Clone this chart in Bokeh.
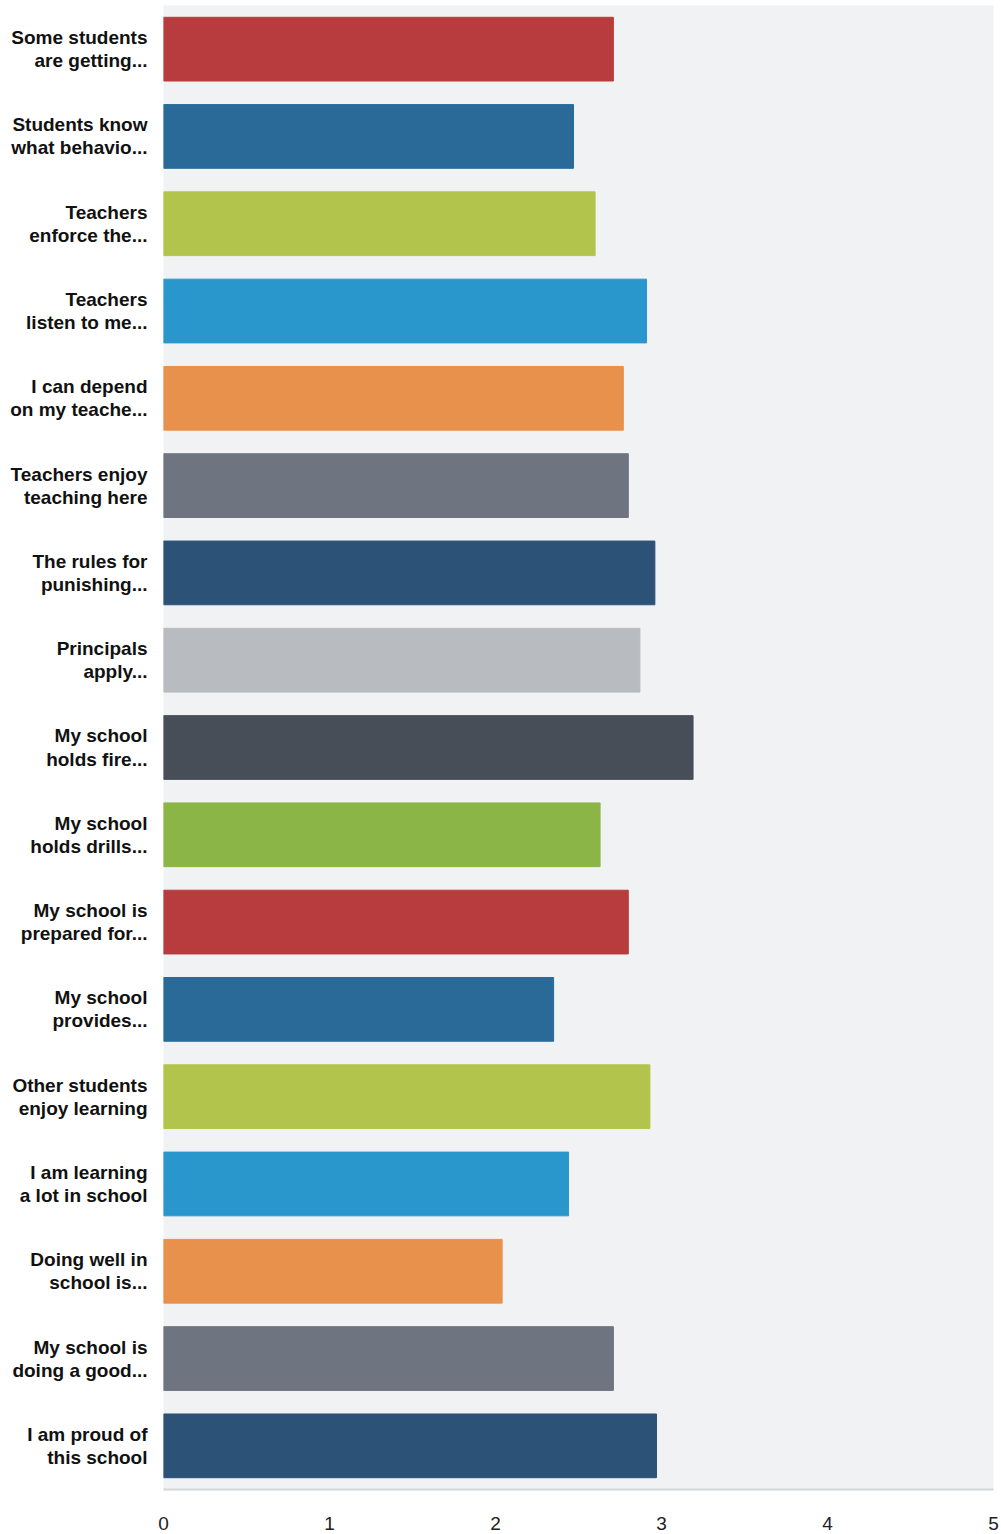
from bokeh.plotting import figure
from bokeh.models import ColumnDataSource, FactorRange, Range1d, FixedTicker
from bokeh.embed import file_html
from bokeh.resources import INLINE

categories = [
    "Some students\nare getting...",
    "Students know\nwhat behavio...",
    "Teachers\nenforce the...",
    "Teachers\nlisten to me...",
    "I can depend\non my teache...",
    "Teachers enjoy\nteaching here",
    "The rules for\npunishing...",
    "Principals\napply...",
    "My school\nholds fire...",
    "My school\nholds drills...",
    "My school is\nprepared for...",
    "My school\nprovides...",
    "Other students\nenjoy learning",
    "I am learning\na lot in school",
    "Doing well in\nschool is...",
    "My school is\ndoing a good...",
    "I am proud of\nthis school",
]
values = [2.71, 2.47, 2.60, 2.91, 2.77, 2.80, 2.96, 2.87, 3.19, 2.63,
          2.80, 2.35, 2.93, 2.44, 2.04, 2.71, 2.97]
colors = ["#b83c3d", "#2a6a99", "#b2c44c", "#2a97cc", "#e8914c", "#6e7480",
          "#2c5278", "#b8bbc0", "#474e58", "#8cb547", "#b83c3d", "#2a6a99",
          "#b2c44c", "#2a97cc", "#e8914c", "#6e7480", "#2c5278"]
x_ticks = [0, 1, 2, 3, 4, 5]

source = ColumnDataSource(dict(cat=categories, val=values, color=colors))

p = figure(
    width=1001, height=1534,
    y_range=FactorRange(*list(reversed(categories)), range_padding=0),
    x_range=Range1d(0, 5),
    output_backend="svg", toolbar_location=None,
    min_border_left=163, min_border_right=8, min_border_top=5, min_border_bottom=45,
)
p.hbar(y="cat", right="val", left=0, height=0.73, color="color", source=source)

p.background_fill_color = "#f1f2f3"
p.border_fill_color = "white"
p.outline_line_color = None
p.xgrid.grid_line_color = None
p.ygrid.grid_line_color = None

p.xaxis.ticker = FixedTicker(ticks=x_ticks)
p.xaxis.axis_line_color = "#d3d5d8"
p.xaxis.axis_line_width = 2
p.xaxis.major_tick_line_color = None
p.xaxis.minor_tick_line_color = None
p.xaxis.major_label_standoff = 21
p.xaxis.major_label_text_font = "Liberation Sans"
p.xaxis.major_label_text_font_size = "19px"
p.xaxis.major_label_text_color = "#222222"

p.yaxis.axis_line_color = None
p.yaxis.major_tick_line_color = None
p.yaxis.minor_tick_line_color = None
p.yaxis.major_label_standoff = 10
p.yaxis.major_label_text_font = "Liberation Sans"
p.yaxis.major_label_text_font_style = "bold"
p.yaxis.major_label_text_font_size = "19px"
p.yaxis.major_label_text_color = "#111111"
p.yaxis.major_label_text_line_height = 1.1

open("out.html", "w").write(file_html(p, INLINE))
